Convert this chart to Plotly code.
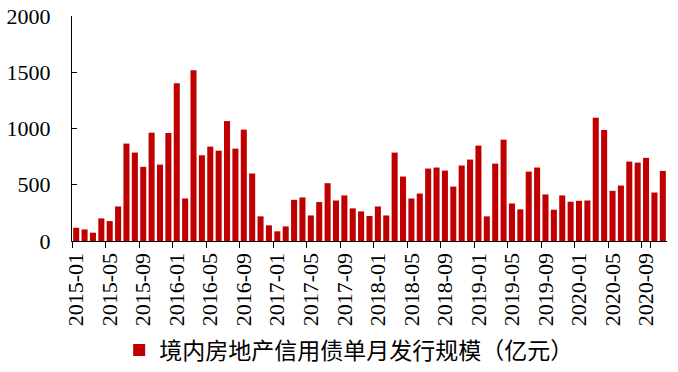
import plotly.graph_objects as go

months = [f"{y}-{m:02d}" for y in range(2015, 2021) for m in range(1, 13)][:71]
values = [
    118, 103, 74, 201, 177, 307, 866, 786, 659, 963, 679, 960,
    1403, 378, 1518, 762, 839, 803, 1066, 821, 990, 600, 219, 139,
    86, 130, 366, 387, 227, 346, 514, 360, 405, 290, 263, 222,
    307, 227, 786, 573, 378, 422, 644, 653, 626, 484, 671, 724,
    848, 219, 688, 901, 334, 281, 617, 653, 414, 278, 405, 349,
    357, 360, 1096, 987, 446, 493, 706, 697, 739, 431, 623,
]
tick_labels = months[::4]
series_name = "境内房地产信用债单月发行规模（亿元）"

FONT = "Liberation Serif, Times New Roman, Noto Sans CJK SC, serif"

fig = go.Figure()
fig.add_trace(go.Bar(x=months, y=values, name=series_name,
                     marker=dict(color="#C00000", line=dict(width=0))))

fig.update_layout(
    width=678, height=372,
    margin=dict(l=72, r=11, t=16, b=131, autoexpand=False),
    plot_bgcolor="white", paper_bgcolor="white",
    bargap=0.28,
    font=dict(family=FONT, size=22, color="black"),
    showlegend=True,
    legend=dict(orientation="h", x=0.465, xanchor="center", y=-0.485, yanchor="middle",
                font=dict(family=FONT, size=23), itemwidth=30),
    xaxis=dict(type="category", tickmode="array", tickvals=tick_labels, ticktext=tick_labels,
               range=[-0.5, 70.5], automargin=False,
               tickson="boundaries", ticks="outside", ticklen=6, tickcolor="black",
               showline=True, linecolor="black", linewidth=1.2, tickangle=-90,
               showgrid=False, tickfont=dict(size=22), ticklabelstandoff=2),
    yaxis=dict(range=[0, 2000], tickvals=[0, 500, 1000, 1500, 2000], ticks="inside", ticklen=5,
               automargin=False,
               tickcolor="black", showline=True, linecolor="black", linewidth=1.2,
               showgrid=False, zeroline=False, tickfont=dict(size=22), ticklabelstandoff=16),
)

fig.write_html("out.html", config={"displayModeBar": False},
               post_script="document.body.style.margin='0';document.body.style.padding='0';")
